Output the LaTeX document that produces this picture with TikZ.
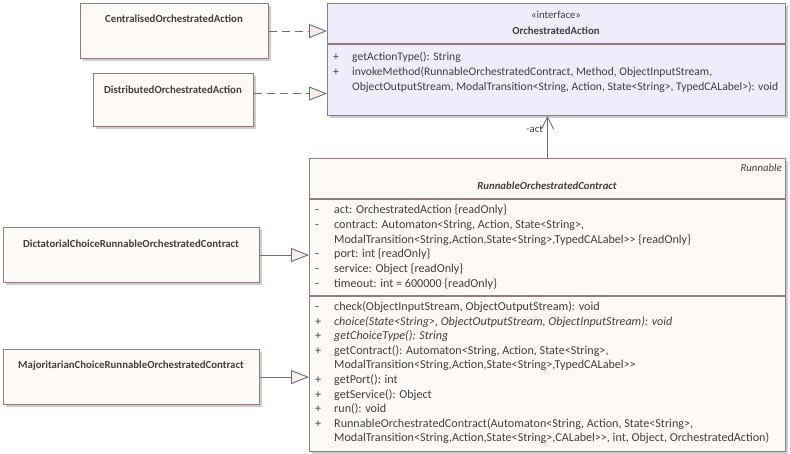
\documentclass[tikz,border=0pt]{standalone}
\usepackage{fontspec}
\setmainfont{Carlito}
\usetikzlibrary{arrows.meta}
\definecolor{bordc}{RGB}{150,122,128}
\definecolor{cream}{RGB}{253,249,246}
\definecolor{lav}{RGB}{239,236,251}
\definecolor{arrc}{RGB}{95,110,150}
\definecolor{trif}{RGB}{250,236,230}
\definecolor{txtc}{RGB}{64,64,64}
\definecolor{shad}{RGB}{205,205,205}
\newcommand{\tfont}{\fontsize{10.8}{12}\selectfont}
\newcommand{\mfont}{\fontsize{11.6}{13}\selectfont}
\newcommand{\rfont}{\fontsize{12.1}{13}\selectfont}
\tikzset{
  umlbox/.style={draw=bordc, line width=1.1pt, fill=cream, inner sep=0pt, anchor=north west},
  shadowbox/.style={fill=shad, draw=none},
  cname/.style={font=\tfont\bfseries, text=txtc, inner sep=0pt},
  mem/.style={font=\mfont, text=txtc, inner sep=0pt, anchor=base west},
  rmem/.style={mem, font=\rfont},
  rmemi/.style={mem, font=\rfont\itshape},
  sepline/.style={draw=bordc, line width=1.1pt},
  realize/.style={draw=arrc, line width=0.9pt, dash pattern=on 8pt off 5pt, -{Triangle[length=18pt,width=14pt,fill=trif,sep=0pt]}},
  inherit/.style={draw=arrc, line width=0.9pt, -{Triangle[length=18pt,width=14pt,fill=trif]}},
  assoc/.style={draw=arrc, line width=0.9pt, -{Straight Barb[length=12pt,width=12pt]}},
}
\newcommand{\shadowrect}[4]{\fill[shadowbox] (#1+3,#2+3) rectangle (#3+3,#4+3);}
\begin{document}
\begin{tikzpicture}[x=1pt,y=-1pt]
\useasboundingbox (0,0) rectangle (790,454);
% shadows
\shadowrect{80}{3}{268}{58}
\shadowrect{93}{73}{253}{126}
\shadowrect{327}{3}{785}{115}
\shadowrect{309}{158}{785}{451}
\shadowrect{3}{227}{259}{282}
\shadowrect{3}{349}{259}{404}
% boxes
\node[umlbox, minimum width=188pt, minimum height=55pt] (cent) at (80,3) {};
\node[umlbox, minimum width=160pt, minimum height=53pt] (dist) at (93,73) {};
\node[umlbox, fill=lav, minimum width=458pt, minimum height=112pt] (oa) at (327,3) {};
\node[umlbox, minimum width=476pt, minimum height=293pt] (roc) at (309,158) {};
\node[umlbox, minimum width=256pt, minimum height=55pt] (dict) at (3,227) {};
\node[umlbox, minimum width=256pt, minimum height=55pt] (maj) at (3,349) {};
% titles
\node[cname] (centT) at (174,19) {CentralisedOrchestratedAction};
\node[cname] (distT) at (173,90) {DistributedOrchestratedAction};
\node[cname] (dictT) at (131,244) {DictatorialChoiceRunnableOrchestratedContract};
\node[cname] (majT) at (131,366) {MajoritarianChoiceRunnableOrchestratedContract};
\node[cname, font=\tfont] (oaS) at (556,15) {«interface»};
\node[cname] (oaT) at (556,31) {OrchestratedAction};
\node[cname, font=\tfont\itshape, anchor=east] (rocS) at (782,168) {Runnable};
\node[cname, font=\tfont\bfseries\itshape] (rocT) at (547,186) {RunnableOrchestratedContract};
% separators
\draw[sepline] (oa.west |- 0,44) -- (oa.east |- 0,44);
\draw[sepline] (roc.west |- 0,199) -- (roc.east |- 0,199);
\draw[sepline] (roc.west |- 0,296) -- (roc.east |- 0,296);
% interface members
\node[mem] (v1) at (333,61) {+};
\node[mem] (m1) at (352,61) {getActionType(): String};
\node[mem] (v2) at (333,76) {+};
\node[mem] (m2) at (352,76) {invokeMethod(RunnableOrchestratedContract, Method, ObjectInputStream,};
\node[mem] (m2b) at (352,90.5) {ObjectOutputStream, ModalTransition<String, Action, State<String>, TypedCALabel>): void};
% attributes
\node[rmem] (a1v) at (315,214) {-};
\node[rmem] (a1) at (334,214) {act: OrchestratedAction \{readOnly\}};
\node[rmem] (a2v) at (315,229) {-};
\node[rmem] (a2) at (334,229) {contract: Automaton<String, Action, State<String>,};
\node[rmem] (a2b) at (334,243.5) {ModalTransition<String,Action,State<String>,TypedCALabel>{}> \{readOnly\}};
\node[rmem] (a3v) at (315,258) {-};
\node[rmem] (a3) at (334,258) {port: int \{readOnly\}};
\node[rmem] (a4v) at (315,273) {-};
\node[rmem] (a4) at (334,273) {service: Object \{readOnly\}};
\node[rmem] (a5v) at (315,287.5) {-};
\node[rmem] (a5) at (334,287.5) {timeout: int = 600000 \{readOnly\}};
% methods
\node[rmem] (o1v) at (315,311) {-};
\node[rmem] (o1) at (334,311) {check(ObjectInputStream, ObjectOutputStream): void};
\node[rmem] (o2v) at (315,326) {+};
\node[rmemi] (o2) at (334,326) {choice(State<String>, ObjectOutputStream, ObjectInputStream): void};
\node[rmem] (o3v) at (315,340) {+};
\node[rmemi] (o3) at (334,340) {getChoiceType(): String};
\node[rmem] (o4v) at (315,355) {+};
\node[rmem] (o4) at (334,355) {getContract(): Automaton<String, Action, State<String>,};
\node[rmem] (o4b) at (334,369) {ModalTransition<String,Action,State<String>,TypedCALabel>{}>};
\node[rmem] (o5v) at (315,383) {+};
\node[rmem] (o5) at (334,383) {getPort(): int};
\node[rmem] (o6v) at (315,398) {+};
\node[rmem] (o6) at (334,398) {getService(): Object};
\node[rmem] (o7v) at (315,412) {+};
\node[rmem] (o7) at (334,412) {run(): void};
\node[rmem] (o8v) at (315,427) {+};
\node[rmem] (o8) at (334,427) {RunnableOrchestratedContract(Automaton<String, Action, State<String>,};
\node[rmem] (o8b) at (334,441) {ModalTransition<String,Action,State<String>,CALabel>{}>, int, Object, OrchestratedAction)};
% connectors
\coordinate (distA) at ([yshift=6.5pt]dist.east);
\draw[realize] (cent.east) -- (oa.west |- cent.east);
\draw[realize] (distA) -- (oa.west |- distA);
\draw[inherit] (dict.east) -- (roc.west |- dict.east);
\draw[inherit] (maj.east) -- (roc.west |- maj.east);
\draw[assoc] (roc.north) -- (oa.south -| roc.north) node[pos=0.7, xshift=-4pt, mem, anchor=east, font=\tfont] (actL) {-act};
\end{tikzpicture}
\end{document}
